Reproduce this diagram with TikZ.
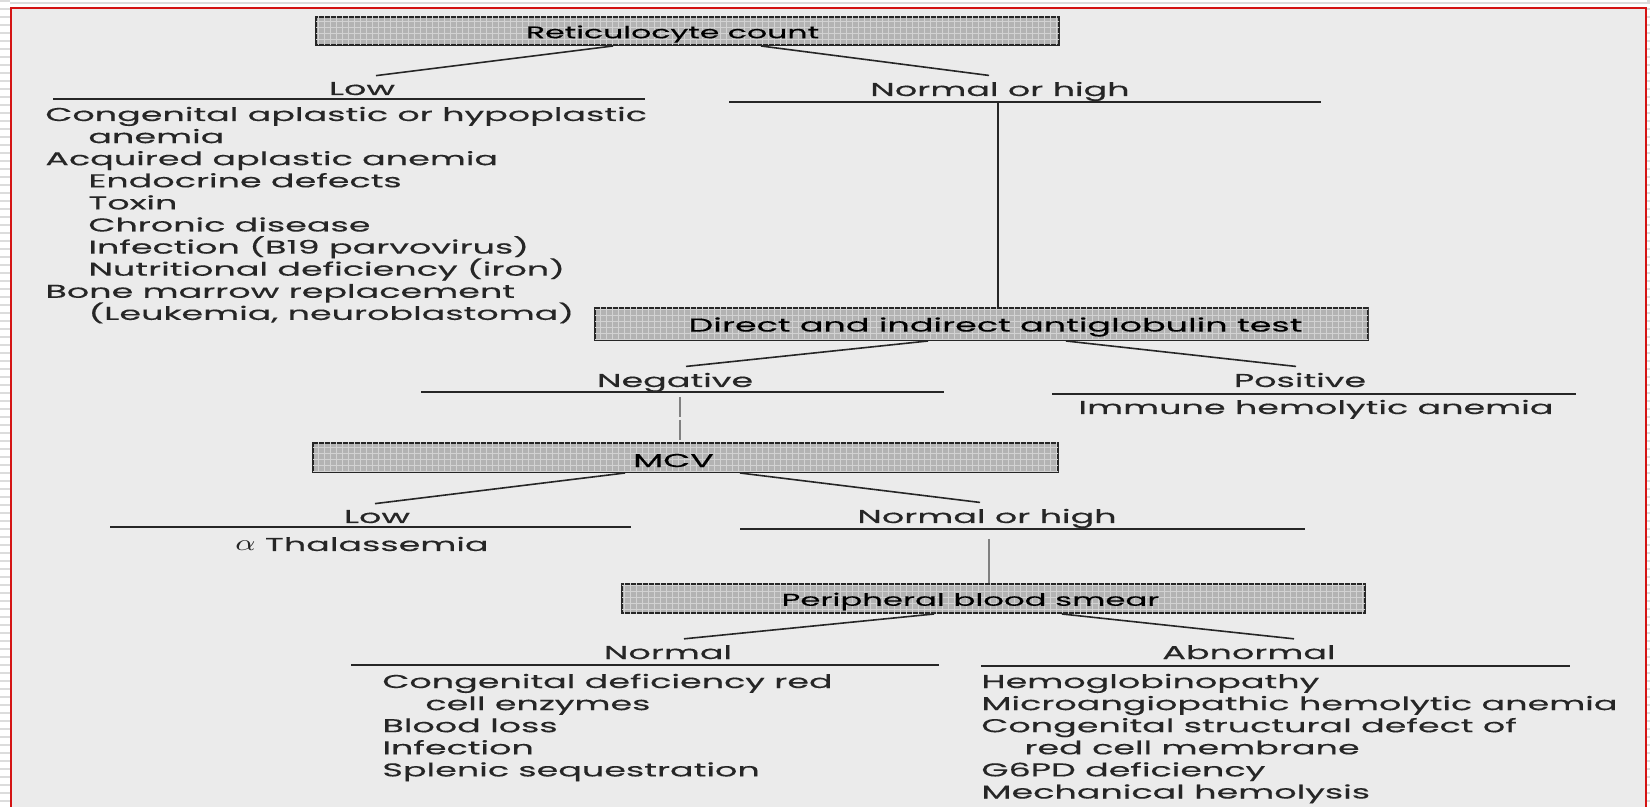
\documentclass[tikz,border=0pt]{standalone}
\usepackage{fontspec}
\newfontfamily\Letra{Poppins}[FakeStretch=1.88, FakeBold=0.4]
\newcommand{\Sangria}{\hspace*{21.5pt}}
\usetikzlibrary{positioning, patterns}
\definecolor{fondo}{HTML}{EBEBEB}
\definecolor{marco}{HTML}{D41414}
\definecolor{tinta}{HTML}{262626}
\definecolor{caja}{HTML}{B3B3B3}
\definecolor{trama}{HTML}{D2D2D2}
\definecolor{raya}{HTML}{DCDCDC}
\tikzstyle{linea} = [draw=tinta, line width=0.8pt]
\tikzstyle{prueba} = [rectangle,
                      draw=black!85,
                      line width=1pt,
                      fill=caja,
                      postaction={pattern=grid, pattern color=trama},
                      inner sep=0pt,
                      label distance=0pt]
\tikzstyle{titulo} = [text=black,
                      inner sep=0pt,
                      yshift=-1.5pt,
                      font=\Letra\fontsize{9.3}{11}\selectfont]
\tikzstyle{rama} = [inner xsep=0pt,
                    inner ysep=3pt,
                    anchor=base,
                    text=tinta,
                    font=\Letra\fontsize{9.3}{11}\selectfont]
\tikzstyle{lista} = [inner sep=0pt,
                     anchor=base west,
                     text=tinta,
                     font=\Letra\fontsize{9.3}{11}\selectfont]

\begin{document}
\begin{tikzpicture}[x=0.5pt, y=-0.5pt]
        \useasboundingbox (0,0) rectangle (1650,807);
        % fondo y marco
        \fill[white] (0,0) rectangle (1650,807);
        \foreach \y in {0,8,...,800} {
            \fill[raya] (0,\y) rectangle (10,\y+2);
            \fill[raya] (1647,\y) rectangle (1650,\y+2);
        }
        \fill[raya] (10,2) rectangle (1650,4);
        \fill[fondo] (11,8) rectangle (1646,807);
        \draw[marco, line width=1pt] (11,807) -- (11,8) -- (1646,8) -- (1646,807);

        % pruebas
        \node (Reticulocyte) [prueba, minimum width=371.5pt, minimum height=14pt,
            label={[titulo, xshift=-7.5pt, font=\Letra\fontsize{8.4}{10}\selectfont]center:Reticulocyte count}] at (687.5,31) {};
        \node (Antiglobulin) [prueba, minimum width=386.5pt, minimum height=16pt,
            label={[titulo, xshift=7pt]center:Direct and indirect antiglobulin test}] at (981.5,324) {};
        \node (MCV) [prueba, minimum width=372.5pt, minimum height=14.5pt,
            label={[titulo, xshift=-6pt]center:MCV}] at (685.5,457.5) {};
        \node (Smear) [prueba, minimum width=371.5pt, minimum height=14.5pt,
            label={[titulo, xshift=-11.5pt, font=\Letra\fontsize{8.6}{10}\selectfont]center:Peripheral blood smear}] at (993.5,598.5) {};

        % ramas
        \node (LowRet) [rama] at (362,95) {Low};
        \node (HighRet) [rama] at (1000,96) {Normal or high};
        \node (Negative) [rama] at (675,387) {Negative};
        \node (Positive) [rama] at (1300,387) {Positive};
        \node (Immune) [rama] at (1316,414) {Immune hemolytic anemia};
        \node (LowMCV) [rama] at (377,523) {Low};
        \node (Thalassemia) [rama] at (362,551) {\scalebox{1.7}[1.25]{$\alpha$} Thalassemia};
        \node (HighMCV) [rama] at (987,523) {Normal or high};
        \node (Normal) [rama] at (668,659) {Normal};
        \node (Abnormal) [rama] at (1249,659) {Abnormal};

        % listas
        \foreach \texto [count=\i] in {Congenital aplastic or hypoplastic, \Sangria anemia,
            Acquired aplastic anemia, \Sangria Endocrine defects, \Sangria Toxin,
            \Sangria Chronic disease, \Sangria Infection (B19 parvovirus),
            \Sangria Nutritional deficiency (iron), Bone marrow replacement,
            {\Sangria (Leukemia, neuroblastoma)}}
            \node (LowItem\i) [lista] at (45,{121+22.1*(\i-1)}) {\texto};
        \foreach \texto [count=\i] in {Congenital deficiency red, \Sangria cell enzymes,
            Blood loss, Infection, Splenic sequestration}
            \node (NormalItem\i) [lista] at (382,{688+22.1*(\i-1)}) {\texto};
        \foreach \texto [count=\i] in {Hemoglobinopathy, Microangiopathic hemolytic anemia,
            Congenital structural defect of, \Sangria red cell membrane,
            G6PD deficiency, Mechanical hemolysis}
            \node (AbnormalItem\i) [lista] at (981,{688+22.1*(\i-1)}) {\texto};

        % subrayados
        \draw[linea] (53,99) -- (645,99);
        \draw[linea] (729,102) -- (1321,102);
        \draw[linea] (421,392) -- (944,392);
        \draw[linea] (1052,394) -- (1576,394);
        \draw[linea] (110,527) -- (631,527);
        \draw[linea] (740,529) -- (1305,529);
        \draw[linea] (351,665) -- (939,665);
        \draw[linea] (981,666) -- (1570,666);

        % conexiones
        \draw[linea] ([xshift=-37.25pt]Reticulocyte.south) -- ([xshift=7pt]LowRet.north);
        \draw[linea] ([xshift=36.75pt]Reticulocyte.south) -- ([xshift=-5.5pt]HighRet.north);
        \draw[linea] ([xshift=-26.75pt]Antiglobulin.south) -- ([xshift=5.5pt]Negative.north);
        \draw[linea] ([xshift=42.25pt]Antiglobulin.south) -- ([xshift=-2pt]Positive.north);
        \draw[linea] ([xshift=-30.25pt]MCV.south) -- ([xshift=-1pt]LowMCV.north);
        \draw[linea] ([xshift=27.25pt]MCV.south) -- ([xshift=-3.5pt]HighMCV.north);
        \draw[linea] ([xshift=-29.75pt]Smear.south) -- ([xshift=8pt]Normal.north);
        \draw[linea] ([xshift=34.25pt]Smear.south) -- ([xshift=22.5pt]Abnormal.north);

        \coordinate (HighRetPie) at (998,102);
        \draw[linea] (HighRetPie) -- (HighRetPie |- Antiglobulin.north);
        \coordinate (NegativePie) at (680,397);
        \draw[linea, draw=gray, dash pattern=on 10pt off 1.5pt] (NegativePie) -- (NegativePie |- MCV.north);
        \coordinate (HighMCVPie) at (989,539);
        \draw[linea, draw=gray] (HighMCVPie) -- (HighMCVPie |- Smear.north);
\end{tikzpicture}
\end{document}
